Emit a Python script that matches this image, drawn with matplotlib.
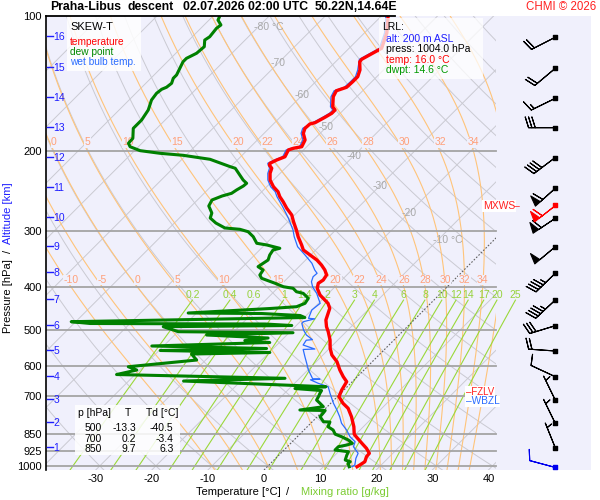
import numpy as np
import matplotlib
matplotlib.use("Agg")
import matplotlib.pyplot as plt
from matplotlib.patches import Rectangle
from matplotlib.ticker import NullLocator
from matplotlib.transforms import blended_transform_factory

plt.rcParams['font.family'] = ['Liberation Sans', 'DejaVu Sans']

# ---- sounding (pressure hPa, temperature degC) ----
temp_p = [100.0, 109.1, 118.0, 120.9, 124.8, 126.4, 131.8, 136.4, 140.0, 144.0,
          146.6, 151.1, 159.1, 161.8, 164.5, 167.9, 172.6, 173.8, 177.7, 182.3,
          188.6, 195.2, 196.8, 198.5, 205.5, 209.0, 212.5, 214.4, 218.0, 223.7,
          231.5, 239.6, 245.8, 252.1, 258.7, 267.5, 276.9, 286.5, 299.0, 309.4,
          322.8, 331.2, 339.8, 348.6, 357.6, 366.9, 376.4, 386.2, 392.7, 402.9,
          417.0, 435.1, 446.3, 457.9, 473.9, 490.4, 503.1, 524.9, 547.7, 566.8,
          586.6, 612.1, 633.4, 649.8, 678.0, 701.7, 725.8, 744.6, 777.4, 818.1,
          850.0, 861.1, 890.7, 913.8, 937.4, 953.9, 978.6, 995.0, 1004.0]
temp_t = [-58.8, -56.0, -54.2, -54.9, -55.8, -55.7, -54.2, -53.4, -53.4, -53.5,
          -54.7, -54.2, -52.5, -51.5, -51.5, -52.0, -52.8, -53.5, -53.6, -53.0,
          -51.5, -50.9, -52.1, -52.7, -52.1, -53.0, -53.6, -53.4, -52.4, -51.8,
          -50.6, -48.8, -47.1, -45.9, -44.4, -42.6, -40.5, -39.0, -37.0, -35.5,
          -33.4, -32.2, -30.1, -28.0, -26.3, -24.8, -23.6, -23.3, -23.6, -22.9,
          -21.2, -18.3, -17.1, -16.5, -15.7, -14.4, -13.2, -11.4, -9.9, -8.4,
          -6.3, -4.3, -2.5, -1.0, -0.4, 0.3, 2.2, 4.0, 6.1, 8.3,
          9.7, 10.5, 12.7, 14.4, 15.8, 15.9, 16.5, 16.2, 16.0]

wetb_p = [100.0, 109.1, 118.0, 120.9, 124.8, 131.8, 136.4, 140.0, 144.0, 146.6,
          151.1, 159.1, 161.8, 164.5, 167.9, 172.6, 177.7, 182.3, 188.6, 195.2,
          196.8, 198.5, 205.5, 209.0, 212.5, 218.0, 223.7, 231.5, 239.6, 245.8,
          252.1, 265.4, 281.6, 299.0, 309.4, 325.7, 339.8, 354.5, 366.9, 373.1,
          379.7, 389.6, 399.7, 413.4, 435.1, 450.2, 469.8, 471.0, 478.0, 482.0,
          498.8, 511.7, 524.0, 525.5, 538.6, 549.7, 551.0, 571.8, 591.5, 612.1,
          640.0, 641.5, 643.5, 655.1, 666.7, 689.6, 725.8, 751.1, 777.4, 804.0,
          832.1, 861.1, 883.4, 906.3, 937.4, 961.8, 995.2, 1004.0]
wetb_t = [-59.2, -56.4, -54.6, -55.3, -56.2, -54.6, -53.8, -53.8, -53.9, -55.1,
          -54.6, -52.9, -51.9, -51.9, -52.4, -53.2, -54.0, -53.4, -51.9, -51.3,
          -52.5, -53.1, -52.5, -53.4, -54.0, -52.8, -52.2, -51.0, -49.3, -47.6,
          -46.4, -43.6, -40.5, -37.6, -36.2, -33.8, -31.0, -28.3, -26.6, -25.6,
          -25.7, -25.1, -24.0, -22.1, -19.7, -20.0, -19.1, -17.9, -19.4, -19.4,
          -17.9, -16.5, -14.6, -15.6, -15.3, -12.5, -14.5, -12.9, -11.4, -9.9,
          -7.6, -6.2, -7.8, -5.8, -3.4, -1.9, 0.5, 2.3, 4.0, 5.5,
          7.6, 9.4, 11.2, 11.8, 13.8, 14.3, 15.3, 15.1]

dewp_p = [100.0, 102.1, 104.7, 106.5, 111.2, 113.1, 117.0, 121.0, 124.2, 126.4,
          130.7, 135.2, 137.5, 141.1, 144.0, 145.5, 148.5, 153.7, 161.8, 170.3,
          174.7, 177.7, 187.0, 191.8, 195.2, 199.2, 201.9, 204.0, 208.2, 216.2,
          218.0, 231.5, 235.4, 238.7, 243.6, 247.8, 251.2, 256.4, 264.4, 274.1,
          281.2, 288.5, 295.9, 297.9, 301.6, 309.4, 320.0, 322.8, 328.3, 331.2,
          339.8, 348.6, 354.5, 360.7, 366.9, 376.4, 382.8, 392.7, 399.7, 402.9,
          410.0, 413.4, 424.1, 435.1, 442.7, 446.8, 457.2, 458.4, 463.1, 467.9,
          478.0, 482.4, 483.7, 487.4, 490.4, 503.1, 505.7, 511.7, 519.6, 526.3,
          531.7, 541.3, 548.3, 553.9, 559.6, 564.0, 581.6, 601.9, 612.1, 626.4,
          638.6, 647.6, 666.7, 672.9, 679.9, 689.6, 700.0, 713.7, 725.8, 738.6,
          751.1, 753.0, 762.7, 777.4, 797.5, 798.7, 818.1, 832.1, 850.0, 861.1,
          875.8, 890.7, 898.5, 906.3, 921.8, 929.9, 945.7, 970.2, 978.6, 986.7,
          1004.0]
dewp_t = [-88.8, -88.4, -87.0, -87.2, -86.9, -87.2, -86.1, -86.3, -87.2, -87.2,
          -86.6, -86.0, -86.0, -85.4, -85.6, -86.1, -86.3, -86.0, -84.8, -84.2,
          -84.2, -84.2, -82.5, -82.4, -81.5, -79.0, -75.0, -70.5, -65.0, -60.1,
          -58.9, -55.4, -54.2, -54.3, -54.8, -55.1, -56.3, -57.4, -56.9, -55.1,
          -54.5, -52.6, -50.1, -47.2, -45.3, -43.5, -41.7, -39.6, -36.7, -37.6,
          -37.3, -36.7, -37.0, -37.3, -35.8, -35.5, -34.6, -31.3, -29.2, -27.2,
          -26.0, -24.5, -22.7, -22.4, -23.3, -27.7, -41.5, -28.3, -21.1, -19.9,
          -60.8, -57.1, -25.8, -20.8, -43.5, -39.9, -19.3, -34.3, -22.8, -26.5,
          -21.7, -42.1, -21.2, -39.8, -19.9, -33.6, -31.6, -42.6, -40.5, -43.3,
          -12.6, -30.2, -3.8, -9.0, -3.9, -3.7, -3.4, -3.1, -1.9, -0.7,
          -4.3, 0.3, 0.4, 0.5, 2.0, 3.2, 3.7, 5.2, 6.3, 7.9,
          9.7, 11.0, 10.3, 9.1, 9.1, 11.8, 12.1, 12.7, 13.9, 13.8,
          14.6]

# altitude marks (km) and the pressure where they sit
alt_km = [16, 15, 14, 13, 12, 11, 10, 9, 8, 7, 6, 5, 4, 3, 2, 1]
alt_p = [111.5, 130.7, 152.4, 177.1, 206.3, 241.5, 281.6, 325.7, 373.1, 427.8,
         487.9, 555.3, 633.4, 713.7, 804.0, 911.0]

# winds at each km (direction deg, speed kt)
wind_dir = [243, 230, 244, 270, 233, 228, 236, 230, 226, 227, 253, 274, 295, 334, 334, 338]
wind_spd = [20, 20, 15, 30, 40, 60, 60, 50, 45, 45, 30, 20, 10, 5, 5, 5]
sfc_p, sfc_dir, sfc_spd = 1004.0, 285, 10
mxws_p, mxws_dir, mxws_spd = 263.0, 232, 60

# table of standard levels
tab_p = ['500', '700', '850']
tab_t = ['-13.3', '0.2', '9.7']
tab_td = ['-40.5', '-3.4', '6.3']

# background line sets
isotherms = list(range(-140, 50, 10))
dry_thetas = list(range(-30, 260, 10))
moist_thw = [-10, -5, 0, 5, 10, 15, 20, 22, 24, 26, 28, 30, 32, 34, 36]
moist_lab_hi = [0, 5, 10, 15, 20, 22, 24, 26, 28, 30, 32, 34]
moist_lab_lo = [-10, -5, 0, 5, 10, 15, 20, 22, 24, 26, 28, 30, 32, 34]
mix_w = [0.2, 0.4, 0.6, 1, 1.4, 2, 3, 4, 6, 8, 10, 12, 14, 17, 20, 25]
mix_lab = ['0.2', '0.4', '0.6', '1', '1.4', '2', '3', '4', '6', '8', '10', '12',
           '14', '17', '20', '25']
iso_lab_t = [-80, -70, -60, -50, -40, -30, -20, -10]
iso_lab_p = [105.8, 127.2, 149.8, 176.6, 204.6, 238.6, 274.3, 314.7]
isobars = [200, 300, 400, 500, 600, 700, 850, 925, 1000]

# ---- diagram geometry ----
P_BOT, P_TOP = 1021.0, 100.0
SKEW = 34.83
X_LEFT, X_RIGHT = -38.86, 58.29
X_CLIP = 41.35
X_BARB = 51.92
BG = '#f0f0fc'
FS = 8


def skx(t, p):
    return np.asarray(t, float) + SKEW * np.log(P_BOT / np.asarray(p, float))


def moist_rate(t, p):
    rd, cp, lv, eps = 287.04, 1005.7, 2.501e6, 0.622
    es = 6.112 * np.exp(17.67 * (t - 273.15) / (t - 29.65))
    rs = eps * es / (p - es)
    return (rd * t + lv * rs) / (p * (cp + lv * lv * rs * eps / (rd * t * t)))


def moist_adiabat(thw):
    grids = [np.linspace(1000, 100, 451), np.linspace(1000, 1025, 26)]
    parts = []
    for grid in grids:
        t = thw + 273.15
        ts = [t]
        for p0, p1 in zip(grid[:-1], grid[1:]):
            h = p1 - p0
            k1 = moist_rate(t, p0)
            k2 = moist_rate(t + h * k1 / 2, p0 + h / 2)
            k3 = moist_rate(t + h * k2 / 2, p0 + h / 2)
            k4 = moist_rate(t + h * k3, p1)
            t = t + h * (k1 + 2 * k2 + 2 * k3 + k4) / 6
            ts.append(t)
        parts.append(np.array(ts))
    p = np.concatenate([grids[1][::-1], grids[0][1:]])
    t = np.concatenate([parts[1][::-1], parts[0][1:]]) - 273.15
    return p, t


def mixing_t(w, p):
    e = w / 1000 * p / (0.622 + w / 1000)
    l = np.log(e / 6.112)
    return 243.5 * l / (17.67 - l)


fig = plt.figure(figsize=(6, 5), dpi=100)
ax = fig.add_axes([46 / 600, 30 / 500, 545 / 600, 454 / 500])
ax.set_facecolor(BG)
ax.set_yscale('log')
ax.set_ylim(P_BOT, P_TOP)
ax.set_xlim(X_LEFT, X_RIGHT)
clip = Rectangle((X_LEFT, P_TOP), X_CLIP - X_LEFT, P_BOT - P_TOP,
                 transform=ax.transData, fill=False, visible=False)
ax.add_patch(clip)

pp = np.geomspace(P_BOT, P_TOP, 200)

for t in isotherms:
    if t == 0:
        continue
    ln, = ax.plot(skx([t, t], [P_BOT, P_TOP]), [P_BOT, P_TOP], color='#cacad2', lw=0.7, zorder=1)
    ln.set_clip_path(clip)
ln, = ax.plot(skx([0, 0], [P_BOT, P_TOP]), [P_BOT, P_TOP], color='#606060', lw=0.8,
              ls=(0, (1.5, 1.5)), zorder=1.6)
ln.set_clip_path(clip)

for th in dry_thetas:
    tt = (th + 273.15) * (pp / 1000.0) ** 0.2857 - 273.15
    ln, = ax.plot(skx(tt, pp), pp, color='#cacad2', lw=0.7, zorder=1)
    ln.set_clip_path(clip)

for thw in moist_thw:
    mp, mt = moist_adiabat(thw)
    ln, = ax.plot(skx(mt, mp), mp, color='#ffc47a', lw=0.8, zorder=1.2)
    ln.set_clip_path(clip)
    # label sits just above the isobar, centred on the curve's crossing of it
    for lab_list, p_iso, p_txt in ((moist_lab_hi, 200.0, 191.0), (moist_lab_lo, 400.0, 386.0)):
        if thw in lab_list:
            tl = np.interp(np.log(p_iso), np.log(mp[::-1]), mt[::-1])
            ax.text(skx(tl, p_iso), p_txt, str(thw), color='#ffa07a', fontsize=7.5,
                    ha='center', va='center', zorder=2,
                    bbox=dict(fc=BG, ec='none', pad=0.3))

mp_line = np.geomspace(P_BOT, 428.0, 60)
for w, lab in zip(mix_w, mix_lab):
    ax.plot(skx(mixing_t(w, mp_line), mp_line), mp_line, color='#9ad83a', lw=0.8, zorder=1.3)
    ax.text(skx(mixing_t(w, 427.0), 427.0), 416.0, lab, color='#96d23c', fontsize=7.5,
            ha='center', va='center', zorder=2)

for p in isobars:
    ax.plot([X_LEFT, X_CLIP], [p, p], color='#a4a4a4', lw=1.3, zorder=1.5)

for t, p in zip(iso_lab_t, iso_lab_p):
    txt = f'{t} \u00b0C' if t in (-80, -10) else str(t)
    ha = 'left' if t in (-80, -10) else 'center'
    xo = skx(t, p) - (0.8 if ha == 'left' else 0)
    ax.text(xo, p, txt, color='#a8a8a8', fontsize=7.5, ha=ha, va='center', zorder=2)

# profiles
ax.plot(skx(wetb_t, wetb_p), wetb_p, color='#2a6cff', lw=0.9, zorder=3)
ax.plot(skx(dewp_t, dewp_p), dewp_p, color='#008000', lw=2.2, zorder=3.2)
ax.plot(skx(temp_t, temp_p), temp_p, color='#ff0000', lw=2.4, zorder=3.4)

# winds
rad = np.deg2rad(wind_dir)
u = -np.array(wind_spd) * np.sin(rad)
v = -np.array(wind_spd) * np.cos(rad)
bk = dict(length=6.2, linewidth=0.8, clip_on=False, zorder=4)
ax.barbs(np.full(len(alt_p), X_BARB), alt_p, u, v, color='k', **bk)
ax.scatter(np.full(len(alt_p), X_BARB), alt_p, marker='s', s=7, c='k', zorder=5, clip_on=False)
r = np.deg2rad(mxws_dir)
ax.barbs([X_BARB], [mxws_p], [-mxws_spd * np.sin(r)], [-mxws_spd * np.cos(r)], color='r', **bk)
ax.scatter([X_BARB], [mxws_p], marker='s', s=7, c='r', zorder=5, clip_on=False)
r = np.deg2rad(sfc_dir)
ax.barbs([X_BARB], [sfc_p], [-sfc_spd * np.sin(r)], [-sfc_spd * np.cos(r)], color='#0000ee', **bk)
ax.scatter([X_BARB], [sfc_p], marker='s', s=7, c='#0000ee', zorder=5, clip_on=False)

# axes cosmetics
for s in ('top', 'right', 'bottom'):
    ax.spines[s].set_visible(False)
ax.spines['left'].set_linewidth(1.2)
ax.yaxis.set_minor_locator(NullLocator())
ax.set_yticks([100] + isobars)
ax.set_yticklabels([str(p) for p in [100] + isobars])
ax.set_xticks([-30, -20, -10, 0, 10, 20, 30, 40])
ax.set_xticklabels(['-30', '-20', '-10', '0', '10', '20', '30', '40'])
ax.tick_params(axis='both', length=0, labelsize=FS, pad=3)

# altitude scale
bt = blended_transform_factory(ax.transAxes, ax.transData)
for km, p in zip(alt_km, alt_p):
    ax.plot([0.002, 0.012], [p * 0.995, p * 0.995], color='#1e1eff', lw=1.0, transform=bt,
            clip_on=False, zorder=4)
    ax.text(0.0135, p, str(km), color='#1e1eff', fontsize=7.5, ha='left', va='center',
            transform=bt, zorder=4)


def ftext(x, y, s, **kw):
    fig.text(x / 600, 1 - y / 500, s, **kw)


def fbox(x0, y0, x1, y1, alpha):
    fig.add_artist(Rectangle((x0 / 600, 1 - y1 / 500), (x1 - x0) / 600, (y1 - y0) / 500,
                             transform=fig.transFigure, fc='white', ec='none', alpha=alpha))


# title line
tb = dict(fontsize=8.8, fontweight='bold', va='center', ha='left')
ftext(50.5, 7.5, 'Praha-Libus', **tb)
ftext(128, 7.5, 'descent', **tb)
ftext(183, 7.5, '02.07.2026 02:00 UTC', **tb)
ftext(315, 7.5, '50.22N,14.64E', **tb)
ftext(596, 7.5, 'CHMI \u00a9 2026', fontsize=8.3, color='#ff2020', va='center', ha='right')
ax.plot([X_LEFT, (395 - 264) / 5.61], [P_TOP, P_TOP], color='k', lw=1.3, clip_on=False, zorder=6)

# legend box
fbox(67, 17, 141, 71, 0.85)
ftext(70, 27, 'SKEW-T', fontsize=8, va='center')
ftext(70, 42, 'temperature', fontsize=7.3, color='#ff0000', va='center')
ftext(70, 52, 'dew point', fontsize=7.3, color='#008800', va='center')
ftext(70, 62, 'wet bulb temp.', fontsize=7.3, color='#2a6cff', va='center')

# LRL box
fbox(379, 18, 483, 79, 0.75)
ftext(382.5, 27.5, 'LRL:', fontsize=7.5, va='center')
ftext(386, 39, 'alt: 200 m ASL', fontsize=7.5, color='#1e1eff', va='center')
ftext(386, 49.5, 'press: 1004.0 hPa', fontsize=7.5, va='center')
ftext(386, 60, 'temp: 16.0 \u00b0C', fontsize=7.5, color='#ff0000', va='center')
ftext(386, 70, 'dwpt: 14.6 \u00b0C', fontsize=7.5, color='#009900', va='center')

# table box
fbox(75, 405, 180, 455, 0.85)
ftext(78, 413.5, 'p [hPa]', fontsize=7.5, va='center')
ftext(127.5, 413.5, 'T', fontsize=7.5, va='center', ha='center')
ftext(146.5, 413.5, 'Td [\u00b0C]', fontsize=7.5, va='center')
for i, (a, b, c) in enumerate(zip(tab_p, tab_t, tab_td)):
    yy = 428.3 + i * 10.2
    ftext(102, yy, a, fontsize=7.5, va='center', ha='right')
    ftext(136.5, yy, b, fontsize=7.5, va='center', ha='right')
    ftext(173.5, yy, c, fontsize=7.5, va='center', ha='right')

# level markers
ftext(483, 206, 'MXWS', fontsize=7.5, color='#ff2020', va='center',
      bbox=dict(fc='white', ec='none', pad=0.5))
ftext(514, 206, '\u2013', fontsize=7.5, color='#ff2020', va='center')
ftext(466, 392, '\u2013FZLV', fontsize=7.0, color='#ff2020', va='center',
      bbox=dict(fc='white', ec='none', pad=0.5))
ftext(466, 401.5, '\u2013WBZL', fontsize=7.3, color='#2a6cff', va='center',
      bbox=dict(fc='white', ec='none', pad=0.5))

# axis titles
ftext(238.5, 492, 'Temperature [\u00b0C]', fontsize=FS, ha='center', va='center')
ftext(288, 492, '/', fontsize=FS, ha='center', va='center')
ftext(344.5, 492, 'Mixing ratio [g/kg]', fontsize=FS, ha='center', va='center', color='#7ccc34')
ftext(8, 296.5, 'Pressure [hPa]', fontsize=FS, ha='center', va='center', rotation=90)
ftext(8, 251.7, '/', fontsize=FS, ha='center', va='center', rotation=90)
ftext(8, 213, 'Altitude [km]', fontsize=FS, ha='center', va='center', rotation=90, color='#1e1eff')

fig.savefig('out.png', dpi=100, facecolor='white')
